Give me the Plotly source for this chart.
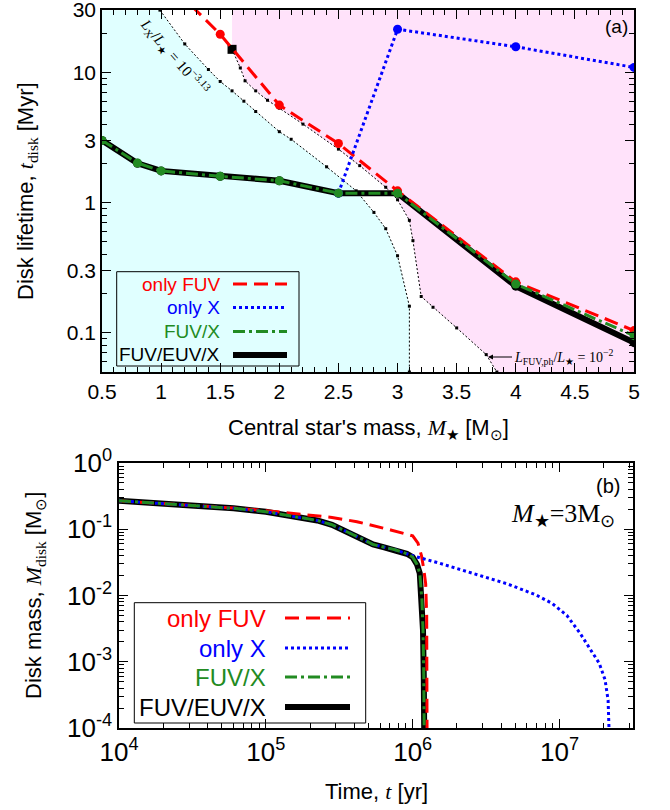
import numpy as np
import plotly.graph_objects as go

W, H = 670, 810

# ---------------- Panel (a): disk lifetime vs stellar mass ----------------
mass = [0.5, 0.8, 1.0, 1.5, 2.0, 2.5, 3.0, 4.0, 5.0]
life_fuv_euv_x = [3.0, 2.0, 1.75, 1.59, 1.47, 1.18, 1.18, 0.228, 0.084]
life_fuv_x = [3.0, 2.01, 1.75, 1.59, 1.47, 1.18, 1.18, 0.237, 0.095]
mass_only_x = [2.5, 3.0, 4.0, 5.0]
life_only_x = [1.18, 21.4, 15.7, 10.9]
mass_only_fuv = [1.0, 1.5, 2.0, 2.5, 3.0, 4.0, 5.0]
life_only_fuv = [55.0, 19.6, 5.6, 2.84, 1.23, 0.246, 0.104]

# boundary: L_X / L_star = 10^-3.13
mass_lx = [0.99, 1.2, 1.4, 1.5, 1.6, 1.7, 1.8, 2.0, 2.1, 2.4, 2.65, 2.8, 2.9, 3.0, 3.1, 3.1]
life_lx = [30, 16.5, 10.5, 8.5, 7.2, 6.0, 5.0, 3.5, 3.06, 1.88, 1.23, 0.84, 0.63, 0.39, 0.16, 0.05]
# boundary: L_FUV,ph / L_star = 10^-2
mass_lfuv = [1.6, 1.67, 1.71, 1.8, 1.9, 2.0, 2.2, 2.5, 2.68, 2.9, 3.0, 3.1, 3.13, 3.2, 3.3, 3.5, 3.75, 3.84]
life_lfuv = [15, 10.8, 8.6, 7.2, 6.1, 5.3, 4.0, 2.57, 1.92, 1.31, 1.05, 0.73, 0.51, 0.19, 0.157, 0.109, 0.068, 0.05]

mass_range = [0.5, 5.0]
life_range = [0.05, 30.0]
mass_ticks = [0.5, 1, 1.5, 2, 2.5, 3, 3.5, 4, 4.5, 5]
mass_tick_text = ["0.5", "1", "1.5", "2", "2.5", "3", "3.5", "4", "4.5", "5"]
life_ticks = [0.1, 0.3, 1, 3, 10, 30]
life_tick_text = ["0.1", "0.3", "1", "3", "10", "30"]

# ---------------- Panel (b): disk mass vs time (M* = 3 Msun) ----------------
time_common = [1.0e4, 2.0e4, 3.55e4, 6.03e4, 1.0e5, 1.70e5, 2.24e5, 2.82e5, 3.55e5, 4.47e5,
               5.37e5, 6.31e5, 7.59e5, 9.12e5, 1.0e6, 1.07e6, 1.117e6, 1.156e6, 1.175e6, 1.189e6, 1.200e6]
mdisk_common = [0.269, 0.245, 0.224, 0.207, 0.184, 0.151, 0.136, 0.117, 0.0933, 0.0724,
                0.0589, 0.0537, 0.0490, 0.0427, 0.0380, 0.0295, 0.0216, 0.0085, 0.0030, 0.00063, 0.00005]
time_only_fuv = [1.0e4, 2.0e4, 3.55e4, 6.03e4, 1.0e5, 1.585e5, 2.24e5, 2.82e5, 4.17e5, 5.62e5,
                 7.08e5, 8.91e5, 1.0e6, 1.086e6, 1.148e6, 1.189e6, 1.225e6, 1.245e6, 1.250e6, 1.253e6]
mdisk_only_fuv = [0.269, 0.245, 0.226, 0.209, 0.191, 0.174, 0.162, 0.151, 0.130, 0.112,
                  0.0977, 0.0851, 0.0794, 0.0617, 0.0398, 0.0251, 0.0151, 0.0050, 0.0010, 0.00005]
time_only_x = [1.0e4, 2.0e4, 3.55e4, 6.03e4, 1.0e5, 1.70e5, 2.24e5, 2.82e5, 3.55e5, 4.47e5,
               5.37e5, 6.31e5, 7.59e5, 9.12e5, 1.0e6, 1.51e6, 2.57e6, 4.37e6, 6.92e6, 8.91e6,
               1.12e7, 1.38e7, 1.66e7, 1.86e7, 2.04e7, 2.14e7, 2.17e7, 2.18e7]
mdisk_only_x = [0.269, 0.245, 0.224, 0.207, 0.184, 0.151, 0.136, 0.117, 0.0933, 0.0724,
                0.0589, 0.0537, 0.0490, 0.0427, 0.0398, 0.0309, 0.0216, 0.0151, 0.0102, 0.00759,
                0.00501, 0.00269, 0.00141, 0.000955, 0.000537, 0.000263, 0.0001, 0.00005]

time_ticks = [1e4, 1e5, 1e6, 1e7]
time_tick_text = ["10<sup>4</sup>", "10<sup>5</sup>", "10<sup>6</sup>", "10<sup>7</sup>"]
mdisk_ticks = [1e-4, 1e-3, 1e-2, 1e-1, 1e0]
mdisk_tick_text = ["10<sup>-4</sup>", "10<sup>-3</sup>", "10<sup>-2</sup>", "10<sup>-1</sup>", "10<sup>0</sup>"]

RED, BLUE, GREEN, BLACK = "#ff0000", "#0000ff", "#228b22", "#000000"
CYAN_FILL, PINK_FILL = "#e0ffff", "#ffe2fa"
SANS = "Liberation Sans, Arial, Helvetica, sans-serif"
SERIF = "Liberation Serif, Times New Roman, serif"

DASH_RED = "14px,7px"
DASH_BLUE = "3px,3px"
DASH_GREEN = "12px,4px,3px,4px"

fig = go.Figure()

# ---- panel (a) background regions ----
fig.add_trace(go.Scatter(
    x=[mass_range[0], mass_range[0]] + mass_lx, y=[life_range[0], life_range[1]] + life_lx,
    fill="toself", fillcolor=CYAN_FILL, mode="none", xaxis="x", yaxis="y", hoverinfo="skip"))
fig.add_trace(go.Scatter(
    x=[mass_lfuv[0]] + mass_lfuv + [mass_range[1], mass_range[1]],
    y=[life_range[1]] + life_lfuv + [life_range[0], life_range[1]],
    fill="toself", fillcolor=PINK_FILL, mode="none", xaxis="x", yaxis="y", hoverinfo="skip"))

# ---- boundary curves ----
for mx, ly in [(mass_lx, life_lx), (mass_lfuv, life_lfuv)]:
    fig.add_trace(go.Scatter(
        x=mx, y=ly, mode="lines+markers", xaxis="x", yaxis="y",
        line=dict(color=BLACK, width=1, dash="2px,2px"),
        marker=dict(symbol="square", size=3, color=BLACK)))
fig.add_trace(go.Scatter(
    x=[mass_lfuv[0]], y=[life_lfuv[0]], mode="markers", xaxis="x", yaxis="y",
    marker=dict(symbol="square", size=9, color=BLACK)))

# ---- panel (a) series ----
fig.add_trace(go.Scatter(x=mass, y=life_fuv_euv_x, mode="lines+markers", xaxis="x", yaxis="y",
                         line=dict(color=BLACK, width=6),
                         marker=dict(symbol="circle", size=9, color=BLACK)))
fig.add_trace(go.Scatter(x=mass_only_fuv, y=life_only_fuv, mode="lines+markers", xaxis="x", yaxis="y",
                         line=dict(color=RED, width=3, dash=DASH_RED),
                         marker=dict(symbol="circle", size=9, color=RED)))
fig.add_trace(go.Scatter(x=mass_only_x, y=life_only_x, mode="lines+markers", xaxis="x", yaxis="y",
                         line=dict(color=BLUE, width=3, dash=DASH_BLUE),
                         marker=dict(symbol="circle", size=9, color=BLUE)))
fig.add_trace(go.Scatter(x=mass, y=life_fuv_x, mode="lines+markers", xaxis="x", yaxis="y",
                         line=dict(color=GREEN, width=3, dash=DASH_GREEN),
                         marker=dict(symbol="circle", size=9, color=GREEN)))

# ---- panel (b) series ----
fig.add_trace(go.Scatter(x=time_common, y=mdisk_common, mode="lines", xaxis="x2", yaxis="y2",
                         line=dict(color=BLACK, width=6)))
fig.add_trace(go.Scatter(x=time_only_fuv, y=mdisk_only_fuv, mode="lines", xaxis="x2", yaxis="y2",
                         line=dict(color=RED, width=3, dash=DASH_RED)))
fig.add_trace(go.Scatter(x=time_only_x, y=mdisk_only_x, mode="lines", xaxis="x2", yaxis="y2",
                         line=dict(color=BLUE, width=3, dash=DASH_BLUE)))
fig.add_trace(go.Scatter(x=time_common, y=mdisk_common, mode="lines", xaxis="x2", yaxis="y2",
                         line=dict(color=GREEN, width=3, dash=DASH_GREEN)))


def log_minor(lo_exp, hi_exp):
    vals = []
    for e in range(lo_exp, hi_exp):
        for k in range(2, 10):
            vals.append(k * 10.0 ** e)
    return vals


axis_common = dict(showline=True, linecolor=BLACK, linewidth=1.5, mirror="allticks",
                   ticks="inside", tickcolor=BLACK, tickwidth=1.2, showgrid=False,
                   zeroline=False, automargin=False, ticklabeloverflow="allow")

life_minor = [v for v in log_minor(-2, 2) if life_range[0] <= v <= life_range[1] and v not in life_ticks]

fig.update_layout(
    template="none",
    width=W, height=H, margin=dict(l=0, r=0, t=0, b=0, pad=0, autoexpand=False),
    paper_bgcolor="white", plot_bgcolor="white", showlegend=False,
    font=dict(family=SANS, color=BLACK),
    xaxis=dict(domain=[102 / W, 634 / W], anchor="y", range=mass_range,
               tickvals=mass_ticks, ticktext=mass_tick_text, ticklen=9,
               tickfont=dict(size=21, family=SANS),
               minor=dict(dtick=0.1, ticks="inside", ticklen=5, tickwidth=1, tickcolor=BLACK),
               **axis_common),
    yaxis=dict(domain=[1 - 372 / H, 1 - 10 / H], anchor="x", type="log",
               range=[np.log10(life_range[0]), np.log10(life_range[1]) + 0.001],
               tickvals=life_ticks, ticktext=life_tick_text, ticklen=9,
               tickfont=dict(size=21, family=SANS),
               minor=dict(tickvals=life_minor, ticks="inside", ticklen=5, tickwidth=1, tickcolor=BLACK),
               **axis_common),
    xaxis2=dict(domain=[119 / W, 633 / W], anchor="y2", type="log", range=[4, 7.5],
                tickvals=time_ticks, ticktext=time_tick_text, ticklen=9,
                tickfont=dict(size=26, family=SANS),
                minor=dict(tickvals=[v for v in log_minor(4, 8) if v < 10 ** 7.5],
                           ticks="inside", ticklen=5, tickwidth=1, tickcolor=BLACK),
                **axis_common),
    yaxis2=dict(domain=[1 - 728 / H, 1 - 463 / H], anchor="x2", type="log", range=[-4, 0.0005],
                tickvals=mdisk_ticks, ticktext=mdisk_tick_text, ticklen=9,
                tickfont=dict(size=26, family=SANS),
                minor=dict(tickvals=log_minor(-4, 0), ticks="inside", ticklen=5, tickwidth=1, tickcolor=BLACK),
                **axis_common),
)

ann = []
shapes = []


def P(px, py):
    return px / W, 1 - py / H


def text(px, py, s, size, family=SANS, color=BLACK, xanchor="center", angle=0):
    x, y = P(px, py)
    ann.append(dict(x=x, y=y, xref="paper", yref="paper", text=s, showarrow=False,
                    xanchor=xanchor, yanchor="middle", textangle=angle,
                    font=dict(size=size, family=family, color=color)))


ser = lambda s: '<span style="font-family:Liberation Serif">' + s + '</span>'

# axis titles
text(368, 429, "Central star's mass, " + ser("<i>M</i><sub>★</sub>") + " [M<sub>⊙</sub>]", 22)
text(27, 191, "Disk lifetime, " + ser("<i>t</i><sub>disk</sub>") + " [Myr]", 22, angle=-90)
text(376, 791, "Time, " + ser("<i>t</i>") + " [yr]", 22)
text(35, 596, "Disk mass, " + ser("<i>M</i><sub>disk</sub>") + " [M<sub>⊙</sub>]", 22, angle=-90)

# panel labels
text(616, 27, "(a)", 19)
text(608, 486, "(b)", 20)
text(563, 515, "<i>M</i><sub>★</sub>=3M<sub>⊙</sub>", 26, family=SERIF)

# boundary labels
text(175, 57, "<i>L</i><sub>X</sub>/<i>L</i><sub>★</sub> = 10<sup>−3.13</sup>", 15, family=SERIF, angle=49)
hx, hy = P(488, 357)
ann.append(dict(x=hx, y=hy, xref="paper", yref="paper",
                text="<i>L</i><sub>FUV,ph</sub>/<i>L</i><sub>★</sub> = 10<sup>−2</sup>",
                showarrow=True, ax=24, ay=0, xanchor="left", yanchor="middle",
                arrowhead=2, arrowsize=1, arrowwidth=1, arrowcolor=BLACK,
                font=dict(size=14, family=SERIF, color=BLACK)))


def legend(box, rows, text_right, sample, size, items):
    x0, y0 = P(box[0], box[3])
    x1, y1 = P(box[2], box[1])
    shapes.append(dict(type="rect", xref="paper", yref="paper", x0=x0, x1=x1, y0=y0, y1=y1,
                       line=dict(color=BLACK, width=1), fillcolor="rgba(0,0,0,0)"))
    for (label, color, width, dash), ry in zip(items, rows):
        text(text_right, ry, label, size, color=color, xanchor="right")
        sx0, sy = P(sample[0], ry)
        sx1, _ = P(sample[1], ry)
        shapes.append(dict(type="line", xref="paper", yref="paper", x0=sx0, x1=sx1, y0=sy, y1=sy,
                           line=dict(color=color, width=width, dash=dash)))


items = [("only FUV", RED, 3, DASH_RED), ("only X", BLUE, 3, DASH_BLUE),
         ("FUV/X", GREEN, 3, DASH_GREEN), ("FUV/EUV/X", BLACK, 6, "solid")]
legend((116.7, 271.7, 299, 366), [284, 307.5, 331.5, 355], 222, (233, 287), 19, items)
legend((134.3, 602.7, 365.7, 723), [618, 648, 677, 707], 268, (285, 350), 24, items)

fig.update_layout(annotations=ann, shapes=shapes)
fig.write_html("out.html", config={"displayModeBar": False},
               post_script="document.body.style.margin='0';document.body.style.padding='0';"
                           "document.documentElement.style.overflow='hidden';")
